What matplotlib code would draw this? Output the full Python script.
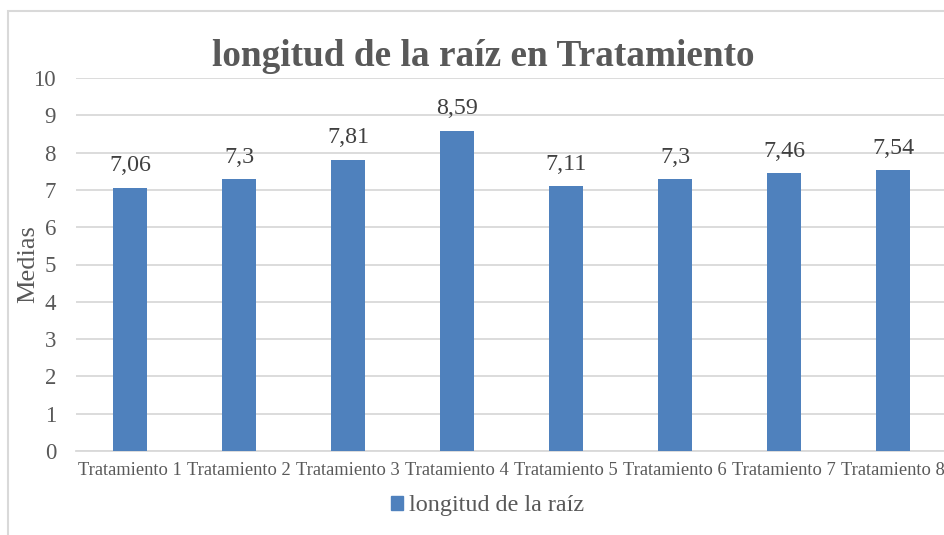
import matplotlib
matplotlib.use("Agg")
import matplotlib.pyplot as plt
from matplotlib.patches import Rectangle, Patch

# datos
tratamientos = ["Tratamiento 1", "Tratamiento 2", "Tratamiento 3", "Tratamiento 4",
                "Tratamiento 5", "Tratamiento 6", "Tratamiento 7", "Tratamiento 8"]
medias = [7.06, 7.3, 7.81, 8.59, 7.11, 7.3, 7.46, 7.54]
yticks = [0, 1, 2, 3, 4, 5, 6, 7, 8, 9, 10]

W, H = 944, 535
plt.rcParams['font.family'] = ['Liberation Serif', 'DejaVu Serif']

fig = plt.figure(figsize=(W / 100, H / 100), dpi=100)
# el area del grafico sigue mas alla del borde derecho, como en el original recortado
ax = fig.add_axes([75.5 / W, 1 - 451 / H, 872 / W, (451 - 78) / H])

x = range(len(tratamientos))
bars = ax.bar(x, medias, width=0.31, color='#4F81BD', zorder=3)

for b, v in zip(bars, medias):
    ax.text(b.get_x() + b.get_width() / 2, v + 0.3, f"{v:g}".replace('.', ','),
            ha='center', va='bottom', fontsize=17.3, color='#404040')

ax.set_xlim(-0.5, len(tratamientos) - 0.5)
ax.set_ylim(0, 10)
ax.set_yticks(yticks)
ax.set_xticks(list(x))
ax.set_xticklabels(tratamientos, fontsize=13.3, color='#595959')
ax.tick_params(axis='y', labelsize=16.5, labelcolor='#595959', length=0, pad=14)
ax.tick_params(axis='x', length=0, pad=8)
ax.grid(axis='y', color='#D9D9D9', linewidth=1.3, zorder=0)
ax.set_axisbelow(True)
for s in ['top', 'right', 'left']:
    ax.spines[s].set_visible(False)
ax.spines['bottom'].set_color('#D9D9D9')
ax.spines['bottom'].set_linewidth(1.3)

ax.set_ylabel("Medias", fontsize=19, color='#595959')
ax.yaxis.set_label_coords((39 - 75.5) / 872, (451 - 264.5) / 373)

fig.text(483 / W, 1 - 57 / H, "longitud de la raíz en Tratamiento",
         ha='center', va='center', fontsize=26.8, fontweight='bold', color='#595959')

fig.legend(handles=[Patch(color='#4F81BD', label='longitud de la raíz')],
           loc='center', bbox_to_anchor=(488 / W, 1 - 506 / H), frameon=False,
           fontsize=17.4, handlelength=0.5, handleheight=0.5, handletextpad=0.25,
           labelcolor='#595959')

fig.patches.append(Rectangle((8 / W, -0.1), 2, 1 - 11 / H + 0.1, transform=fig.transFigure,
                             fill=False, edgecolor='#D9D9D9', linewidth=1.5))

fig.savefig("out.png", dpi=100)
